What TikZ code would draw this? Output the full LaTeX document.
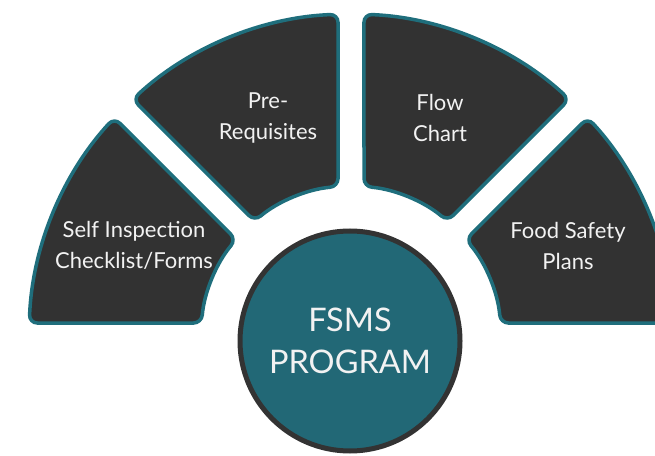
\documentclass[tikz,border=0pt]{standalone}
\usepackage{fontspec}
\setmainfont{Lato}
\usetikzlibrary{calc}
\definecolor{segfill}{HTML}{323232}
\definecolor{segline}{HTML}{1F6E7C}
\definecolor{hubfill}{HTML}{226876}
\definecolor{hubline}{HTML}{333333}
\definecolor{txt}{HTML}{F2F2F2}
\begin{document}
\begin{tikzpicture}[x=1pt,y=1pt,
  seg/.style={fill=segfill, draw=segline, line width=3.5pt, rounded corners=8pt},
  lbl/.style={text=txt, align=center, font=\fontsize{22}{31}\selectfont, inner sep=0pt},
  hub/.style={circle, fill=hubfill, draw=hubline, line width=5pt, minimum size=220pt, inner sep=0pt,
    text=txt, align=center, font=\fontsize{32.5}{42}\selectfont}]
\useasboundingbox (0,0) rectangle (655,455);
\clip (0,0) rectangle (655,455);
\coordinate (C) at (351,119);
\pgfmathsetmacro\dO{asin(13/322)}
\pgfmathsetmacro\dI{asin(13/150)}
\foreach \a/\b in {0/45,45/90,90/135,135/180} {
  \draw[seg] ($(C)+(\a+\dO:322pt)$) arc[start angle=\a+\dO, end angle=\b-\dO, radius=322pt]
    -- ($(C)+(\b-\dI:150pt)$) arc[start angle=\b-\dI, end angle=\a+\dI, radius=150pt] -- cycle;
}
\node[hub] (prog) at (350,114) {FSMS\\PROGRAM};
\node[lbl] (self) at (134,209.5) {Self Inspection\\Checklist/Forms};
\node[lbl] (pre) at (268,336.5) {Pre-\\Requisites};
\node[lbl] (flow) at (440,337.5) {Flow\\Chart};
\node[lbl] (food) at (568,209.5) {Food Safety\\Plans};
\end{tikzpicture}
\end{document}
